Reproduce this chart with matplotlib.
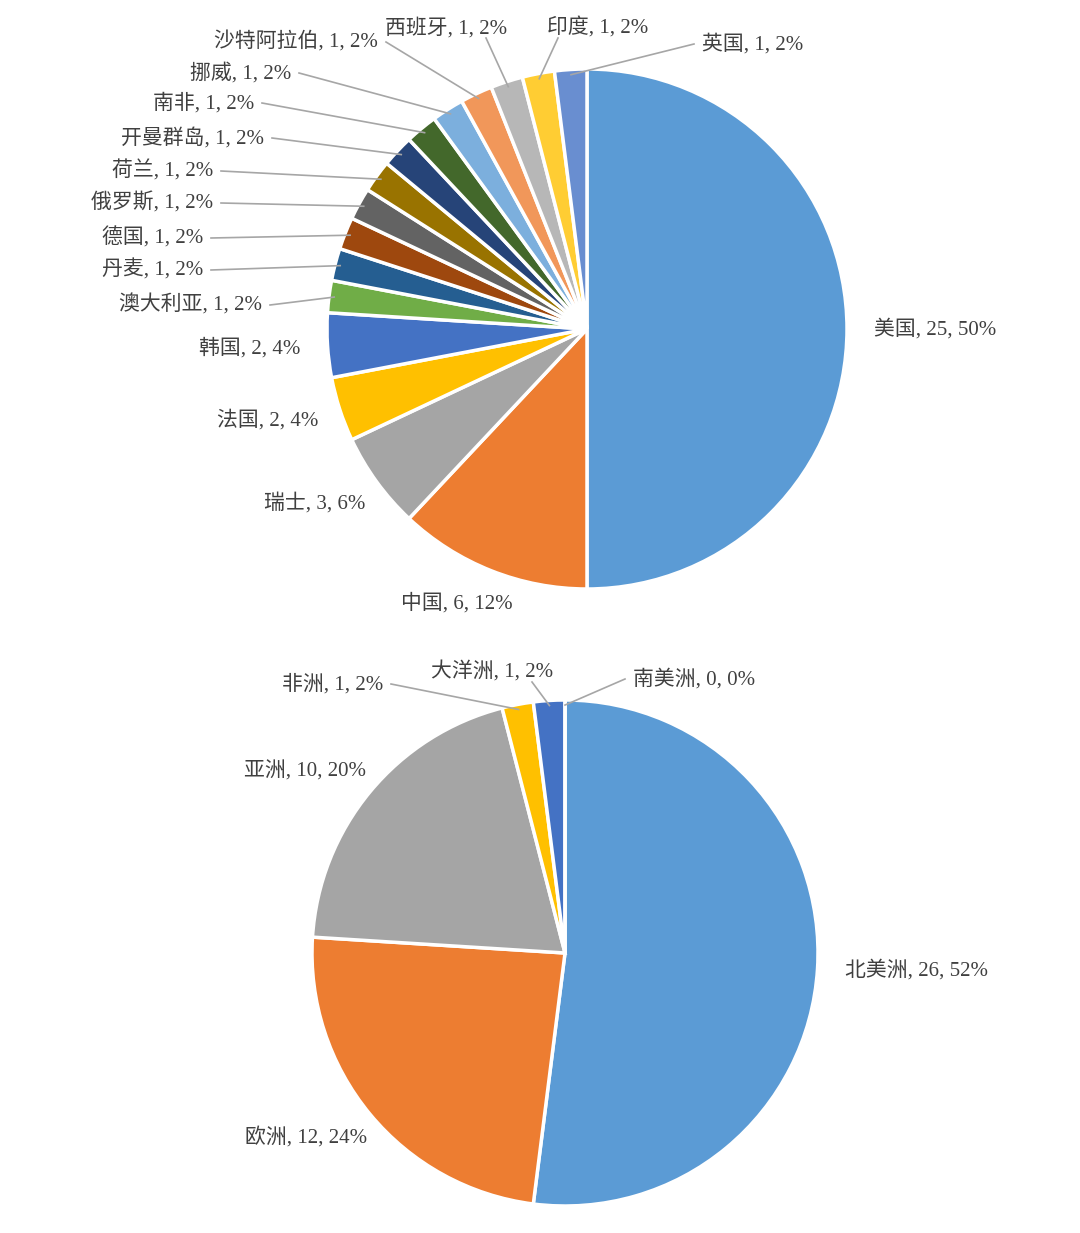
import matplotlib.pyplot as plt
import numpy as np

plt.rcParams['font.family'] = ['Liberation Serif', 'Noto Sans CJK SC', 'DejaVu Sans']

W, H = 1080, 1233

# top pie: countries
countries = ['美国', '中国', '瑞士', '法国', '韩国', '澳大利亚', '丹麦', '德国', '俄罗斯', '荷兰',
             '开曼群岛', '南非', '挪威', '沙特阿拉伯', '西班牙', '印度', '英国']
country_vals = [25, 6, 3, 2, 2, 1, 1, 1, 1, 1, 1, 1, 1, 1, 1, 1, 1]
country_pct = ['50%', '12%', '6%', '4%', '4%', '2%', '2%', '2%', '2%', '2%', '2%', '2%', '2%',
               '2%', '2%', '2%', '2%']

# bottom pie: continents
continents = ['北美洲', '欧洲', '亚洲', '非洲', '大洋洲', '南美洲']
continent_vals = [26, 12, 10, 1, 1, 0]
continent_pct = ['52%', '24%', '20%', '2%', '2%', '0%']

colors = ['#5B9BD5', '#ED7D31', '#A5A5A5', '#FFC000', '#4472C4', '#70AD47', '#255E91', '#9E480E',
          '#636363', '#997300', '#264478', '#43682B', '#7CAFDD', '#F1975A', '#B7B7B7', '#FFCD33',
          '#698ED0']

# label layout: (x_px, y_px, ha, leader)
top_pos = [(874, 329, 'left', False), (457, 603, 'center', False), (365, 503, 'right', False),
           (318, 420, 'right', False), (300, 348, 'right', False), (262, 305, 'right', True),
           (203, 270, 'right', True), (203, 238, 'right', True), (213, 203, 'right', True),
           (213, 171, 'right', True), (264, 138, 'right', True), (254, 103, 'right', True),
           (291, 73, 'right', True), (378, 42, 'right', True), (446, 28, 'center', True),
           (598, 28, 'center', True), (702, 44, 'left', True)]
bot_pos = [(845, 970, 'left', False), (367, 1137, 'right', False), (366, 771, 'right', False),
           (383, 684, 'right', True), (492, 672, 'center', True), (633, 679, 'left', True)]

fig = plt.figure(figsize=(W / 100, H / 100), dpi=100)
ax = fig.add_axes([0, 0, 1, 1])
ax.set_xlim(0, W)
ax.set_ylim(0, H)
ax.set_aspect('equal')
ax.axis('off')


def draw(names, vals, pcts, pos, cx, cy, r):
    c = (cx, H - cy)
    ax.pie(vals, colors=colors[:len(vals)], startangle=90, counterclock=False, center=c,
           radius=r, wedgeprops=dict(edgecolor='white', linewidth=2.5), frame=True)
    total = sum(vals)
    cum = 0
    for n, v, p, (x, y, ha, lead) in zip(names, vals, pcts, pos):
        mid = 90 - 360 * (cum + v / 2) / total
        cum += v
        ax.text(x, H - y, f'{n}, {v}, {p}', ha=ha, va='center', fontsize=15, color='#404040')
        if lead:
            a = np.radians(mid)
            ex, ey = c[0] + r * 0.98 * np.cos(a), c[1] + r * 0.98 * np.sin(a)
            if ha == 'right':
                sx = x + 8
            elif ha == 'left':
                sx = x - 8
            else:
                sx = x + 40 if ex > x else x - 40
            sy = H - y
            if ha == 'center':
                sy = H - y - 10
            ax.plot([sx, ex], [sy, ey], color='#A6A6A6', lw=1.2)


draw(countries, country_vals, country_pct, top_pos, 587, 329, 260)
draw(continents, continent_vals, continent_pct, bot_pos, 565, 953, 253)
ax.set_xlim(0, W)
ax.set_ylim(0, H)
ax.axis('off')

fig.savefig('out.png', dpi=100, facecolor='white')
